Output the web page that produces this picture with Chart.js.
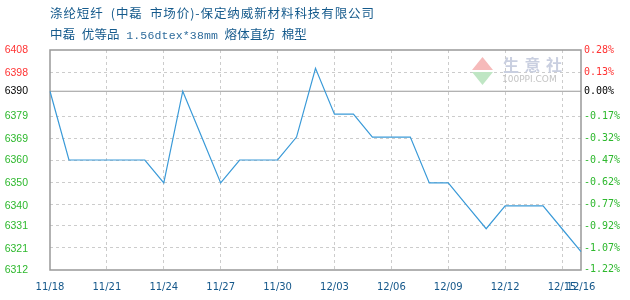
<!DOCTYPE html>
<html>
<head>
<meta charset="utf-8">
<script src="https://cdn.jsdelivr.net/npm/chart.js@4.4.1/dist/chart.umd.min.js"></script>
<style>
  html, body { margin: 0; padding: 0; background: #fff; }
  #wrap { position: relative; width: 630px; height: 300px; }
  .ttl { position: absolute; left: 50px; font-family: "Noto Sans CJK SC", sans-serif; font-size: 12.5px; color: #155a8c; white-space: pre; line-height: 1; }
  #title1 { top: 7px; }
  #title2 { top: 28px; }
  .spec { font-family: "Liberation Mono", monospace; font-size: 11.5px; color: #2f6c9c; }
</style>
</head>
<body>
<div id="wrap">
  <canvas id="priceChart" width="630" height="300"></canvas>
  <div class="ttl" id="title1">涤纶短纤&#x2002;(中磊&#x2002;市场价)-保定纳威新材料科技有限公司</div>
  <div class="ttl" id="title2">中磊&#x2002;优等品&#x2002;<span class="spec">1.56dtex*38mm</span>&#x2002;熔体直纺&#x2002;棉型</div>
</div>
<script>
const dates = ['11/18', '11/19', '11/20', '11/21', '11/22', '11/23', '11/24', '11/25', '11/26', '11/27',
    '11/28', '11/29', '11/30', '12/01', '12/02', '12/03', '12/04', '12/05', '12/06', '12/07',
    '12/08', '12/09', '12/10', '12/11', '12/12', '12/13', '12/14', '12/15', '12/16'];
const prices = [6390, 6360, 6360, 6360, 6360, 6360, 6350, 6390, 6370, 6350,
    6360, 6360, 6360, 6370, 6400, 6380, 6380, 6370, 6370, 6370,
    6350, 6350, 6340, 6330, 6340, 6340, 6340, 6330, 6320];
const xTickLabels = ['11/18', '11/21', '11/24', '11/27', '11/30', '12/03', '12/06', '12/09', '12/12', '12/15', '12/16'];
const yTickLabels = [6408, 6398, 6390, 6379, 6369, 6360, 6350, 6340, 6331, 6321, 6312];
const pctTickLabels = ['0.28%', '0.13%', '0.00%', '-0.17%', '-0.32%', '-0.47%', '-0.62%', '-0.77%', '-0.92%', '-1.07%', '-1.22%'];
const basePrice = 6390;

const yMin = Math.min(...yTickLabels);
const yMax = Math.max(...yTickLabels);

// stretch the title lines to the width they have in the original
function fitWidth(el, target) {
    const w = el.getBoundingClientRect().width;
    const n = el.textContent.length;
    el.style.letterSpacing = ((target - w) / n).toFixed(2) + 'px';
}
fitWidth(document.getElementById('title1'), 325);
fitWidth(document.getElementById('title2'), 257);

function upDownColor(v, base) {
    if (v > base + 1e-9) return '#ff3333';
    if (v < base - 1e-9) return '#2db82d';
    return '#000000';
}

// frame, zero line and watermark
const framePlugin = {
    id: 'frame',
    beforeDatasetsDraw(chart) {
        const { ctx, chartArea: a, scales } = chart;
        const y0 = scales.y.getPixelForValue(basePrice);
        ctx.save();
        ctx.strokeStyle = '#999';
        ctx.lineWidth = 1.2;
        ctx.beginPath();
        ctx.moveTo(a.left, y0);
        ctx.lineTo(a.right, y0);
        ctx.stroke();
        ctx.lineWidth = 1.5;
        ctx.strokeRect(a.left, a.top, a.right - a.left, a.bottom - a.top);

        // 生意社 logo
        const cx = a.right - 98.5, ty = a.top;
        ctx.fillStyle = '#f6baba';
        ctx.beginPath();
        ctx.moveTo(cx - 10.5, ty + 20); ctx.lineTo(cx + 10.5, ty + 20); ctx.lineTo(cx, ty + 7);
        ctx.closePath(); ctx.fill();
        ctx.fillStyle = '#bfe6c4';
        ctx.beginPath();
        ctx.moveTo(cx - 10.5, ty + 22); ctx.lineTo(cx + 10.5, ty + 22); ctx.lineTo(cx, ty + 35);
        ctx.closePath(); ctx.fill();
        ctx.fillStyle = '#c9cfe0';
        ctx.font = 'bold 16px "Noto Sans CJK SC"';
        ctx.textBaseline = 'middle';
        ctx.textAlign = 'left';
        const chars = ['生', '意', '社'];
        chars.forEach((c, i) => ctx.fillText(c, a.right - 78 + i * 21.5, ty + 15));
        ctx.fillStyle = '#c4c4c4';
        ctx.font = '9px "DejaVu Sans"';
        ctx.fillText('100PPI.COM', a.right - 79, ty + 30);
        ctx.restore();
    }
};

new Chart(document.getElementById('priceChart'), {
    type: 'line',
    data: {
        labels: dates,
        datasets: [{
            data: prices,
            borderColor: '#3a9ad8',
            borderWidth: 1.2,
            pointRadius: 0,
            tension: 0,
            fill: false
        }]
    },
    options: {
        responsive: false,
        animation: false,
        layout: { padding: { top: 50, left: 0, right: 0, bottom: 0 } },
        plugins: { legend: { display: false }, tooltip: { enabled: false } },
        scales: {
            x: {
                type: 'category',
                offset: false,
                afterFit(scale) { scale.height = 30; },
                grid: {
                    drawTicks: false,
                    color: ctx => (ctx.index % 3 === 0 && ctx.index > 0 && ctx.index < dates.length - 1) ? '#cccccc' : 'rgba(0,0,0,0)'
                },
                border: { display: false, dash: [3, 3] },
                ticks: {
                    autoSkip: false,
                    maxRotation: 0,
                    padding: 11,
                    color: '#14578a',
                    font: { family: 'DejaVu Sans', size: 10 },
                    callback(v) {
                        const l = this.getLabelForValue(v);
                        return xTickLabels.includes(l) ? l : '';
                    }
                }
            },
            y: {
                position: 'left',
                min: yMin,
                max: yMax,
                afterFit(scale) { scale.width = 50; },
                afterBuildTicks(scale) { scale.ticks = yTickLabels.map(v => ({ value: v })); },
                grid: { display: false, drawTicks: false },
                border: { display: false },
                ticks: {
                    padding: 22,
                    font: { family: 'Liberation Sans', size: 10.5 },
                    color: ctx => upDownColor(ctx.tick.value, basePrice),
                    callback: v => String(v)
                }
            },
            pct: {
                position: 'right',
                min: (yMin / basePrice - 1) * 100,
                max: (yMax / basePrice - 1) * 100,
                afterFit(scale) { scale.width = 49; },
                afterBuildTicks(scale) { scale.ticks = pctTickLabels.map(s => ({ value: parseFloat(s) })); },
                grid: {
                    drawTicks: false,
                    color: ctx => {
                        const v = ctx.tick.value;
                        const i = ctx.index;
                        return (v === 0 || i === 0 || i === pctTickLabels.length - 1) ? 'rgba(0,0,0,0)' : '#cccccc';
                    }
                },
                border: { display: false, dash: [3, 3] },
                ticks: {
                    padding: 3,
                    font: { family: 'DejaVu Sans Mono', size: 10 },
                    color: ctx => upDownColor(ctx.tick.value, 0),
                    callback: (v, i) => pctTickLabels[i]
                }
            }
        }
    },
    plugins: [framePlugin]
});
</script>
</body>
</html>
